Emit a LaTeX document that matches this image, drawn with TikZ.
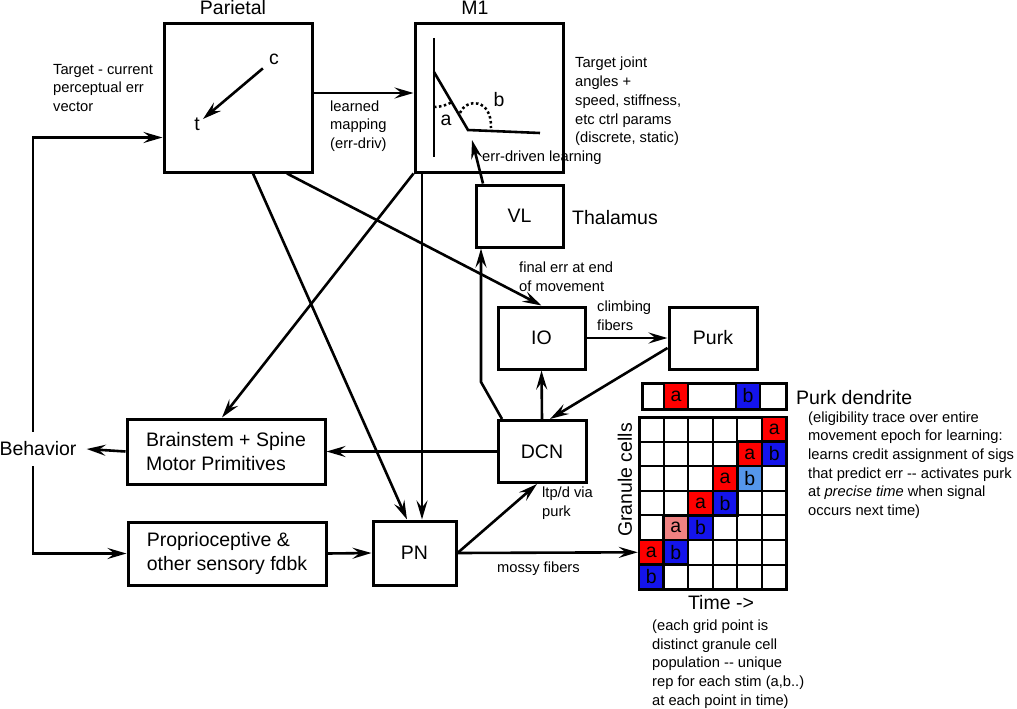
\documentclass[tikz,border=0pt]{standalone}
\usepackage{fontspec}
\setmainfont{Liberation Sans}
\usetikzlibrary{arrows.meta}
\definecolor{cellred}{RGB}{255,0,0}
\definecolor{cellblue}{RGB}{20,20,235}
\definecolor{celllblue}{RGB}{85,150,235}
\definecolor{cellpink}{RGB}{240,130,130}
\newcommand\bigf{\fontsize{19.5}{24.5}\selectfont}
\newcommand\smallf{\fontsize{14.7}{18.7}\selectfont}
\begin{document}
\begin{tikzpicture}[x=1pt,y=-1pt,
  box/.style={draw,line width=3pt,inner sep=0pt,font=\bigf},
  conn/.style={line width=2.6pt,-{Stealth[length=19pt,width=11pt,inset=7pt]}},
  plain/.style={line width=2.6pt},
  lbl/.style={font=\smallf,align=left,anchor=west,inner sep=0pt},
  big/.style={font=\bigf,inner sep=0pt},
  gridln/.style={line width=2pt},
  cell/.style={draw,line width=2.5pt,minimum width=24.6pt,minimum height=24.6pt,inner sep=0pt,font=\bigf},
  dots/.style={line width=2.5pt,dash pattern=on 2.5pt off 2.5pt},
]
\useasboundingbox (0,0) rectangle (1017,709);

% ---------- boxes ----------
\node[box,minimum width=148pt,minimum height=148pt] (Parietal) at (238,98) {};
\node[box,minimum width=148pt,minimum height=148pt] (M1) at (489,98) {};
\node[box,minimum width=87pt,minimum height=62pt] (VL) at (519.5,216) {VL};
\node[box,minimum width=87pt,minimum height=62pt] (IO) at (541.5,338) {IO};
\node[box,minimum width=88pt,minimum height=62pt] (Purk) at (713,338) {Purk};
\node[box,minimum width=88pt,minimum height=62pt] (DCN) at (542,451.5) {DCN};
\node[box,minimum width=198pt,minimum height=65pt,align=left] (Brainstem) at (226,451.5) {Brainstem + Spine\\Motor Primitives};
\node[box,minimum width=198pt,minimum height=63pt,align=left] (Proprio) at (227,553.5) {Proprioceptive \&\\other sensory fdbk};
\node[box,minimum width=83pt,minimum height=64pt] (PN) at (414.5,553) {PN};

% ---------- titles ----------
\node[big] (ParL) at (233,8) {Parietal};
\node[big] (M1L) at (475,8) {M1};
\node[big,anchor=west] (Thal) at (572,218) {Thalamus};
\node[big,inner xsep=10pt,inner ysep=10pt] (Behavior) at (38,449) {Behavior};

% ---------- Parietal content ----------
\node[big,inner sep=3pt] (cpt) at (274,59) {c};
\node[big,inner sep=3pt] (tpt) at (197,124) {t};
\draw[conn,shorten <=4pt] (cpt) -- (tpt);

% ---------- M1 content (arm) ----------
\draw[plain] (434,38) -- (434,157);
\draw[plain] (434,72) -- (468,130) -- (540,133);
\draw[dots] (434,107) arc[start angle=90,end angle=59.6,radius=35];
\draw[dots] (460,113) .. controls (466,98) and (492,98) .. (491,128);
\node[big] (alab) at (446,120) {a};
\node[big] (blab) at (499,100) {b};
\coordinate (jointtip) at (472,140);

% ---------- text labels ----------
\node[lbl] (targettxt) at (53,88) {Target - current\\perceptual err\\vector};
\node[lbl] (learnedtxt) at (330,126) {learned\\mapping\\(err-driv)};
\node[lbl] (m1txt) at (575,101.5) {Target joint\\angles +\\speed, stiffness,\\etc ctrl params\\(discrete, static)};
\node[lbl] (errdrv) at (482,158) {err-driven learning};
\node[lbl] (finaltxt) at (519,276.5) {final err at end\\of movement};
\node[lbl] (climbtxt) at (597,316) {climbing\\fibers};
\node[lbl] (ltptxt) at (542,503.5) {ltp/d via\\purk};
\node[lbl] (mossytxt) at (497,569) {mossy fibers};
\node[big,anchor=west] (pdend) at (796,398) {Purk dendrite};
\node[lbl] (desctxt) at (808,465) {(eligibility trace over entire\\movement epoch for learning:\\learns credit assignment of sigs\\that predict err -{}- activates purk\\at \textit{precise time} when signal\\occurs next time)};
\node[lbl] (bottxt) at (652,664) {(each grid point is\\distinct granule cell\\population -{}- unique\\rep for each stim (a,b..)\\at each point in time)};
\node[big] (timetxt) at (721,603) {Time ->};
\node[big,rotate=90] (grantxt) at (625,480) {Granule cells};

% ---------- dendrite strip ----------
\draw[line width=3pt] (642,383) rectangle (786,409);
\node[cell,fill=cellred,minimum width=24pt,minimum height=26pt] (da) at (676,396) {a};
\node[cell,fill=cellblue,minimum width=24pt,minimum height=26pt] (db) at (748,396) {b};

% ---------- granule grid ----------
\foreach \i in {1,...,5} \draw[gridln] ({639+\i*24.6},417) -- ({639+\i*24.6},589.2);
\foreach \j in {1,...,6} \draw[gridln] (639,{417+\j*24.6}) -- (786.6,{417+\j*24.6});
\draw[line width=3pt] (639,417) rectangle (786.6,589.2);
\foreach \i/\j/\c/\t/\n in {5/0/cellred/a/a0, 4/1/cellred/a/a1, 5/1/cellblue/b/b1,
   3/2/cellred/a/a2, 4/2/celllblue/b/b2, 2/3/cellred/a/a3, 3/3/cellblue/b/b3,
   1/4/cellpink/a/a4, 2/4/cellblue/b/b4, 0/5/cellred/a/a5, 1/5/cellblue/b/b5, 0/6/cellblue/b/b6}
  \node[cell,fill=\c] (\n) at ({651.3+\i*24.6},{429.3+\j*24.6}) {\t};

% ---------- connectors ----------
\coordinate (dvbend) at (481,382);
\draw[conn] ([yshift=5pt]Parietal.east) -- ([yshift=5pt]M1.west);
\draw[conn] ([xshift=-5pt]Behavior.north) |- ([yshift=36pt]Parietal.south west);
\draw[conn] ([xshift=-5pt]Behavior.south) |- (Proprio.west);
\draw[conn] (Brainstem.west) -- (Behavior.east);
\draw[conn] (DCN.west) -- (Brainstem.east);
\draw[conn] (Proprio.east) -- (PN.west);
\draw[conn] (PN.east) -- (a5.west);
\draw[conn] (PN.east) -- ([xshift=-5pt]DCN.south);
\draw[conn] (DCN.north) -- (IO.south);
\draw[conn] ([yshift=-10pt]Purk.west) -- ([xshift=8pt]DCN.north);
\draw[conn] (IO.east) -- (Purk.west);
\draw[conn] ([xshift=-40pt]DCN.north) -- (dvbend) -- ([xshift=-38.5pt]VL.south);
\draw[conn] ([xshift=-36.5pt]VL.north) -- (jointtip);
\draw[conn] ([xshift=49pt]Parietal.south) -- (IO.north);
\draw[conn] ([xshift=15pt]Parietal.south) -- ([xshift=-7.5pt]PN.north);
\draw[conn] ([xshift=-67pt]M1.south) -- ([xshift=7.5pt]PN.north);
\draw[conn] (M1.south west) -- ([xshift=-4pt]Brainstem.north);
\end{tikzpicture}
\end{document}
